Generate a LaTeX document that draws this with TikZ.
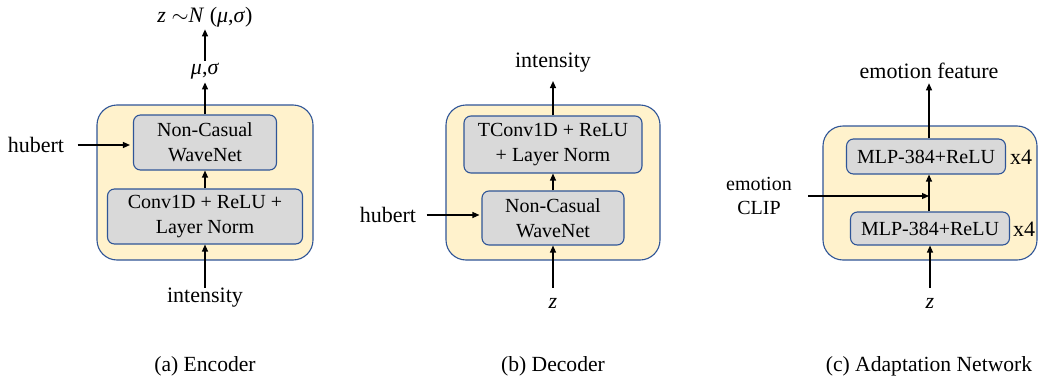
\documentclass[tikz,border=0pt]{standalone}
\usepackage{fontspec}
\setmainfont{Liberation Serif}
\usetikzlibrary{arrows.meta}
\definecolor{outerfill}{HTML}{FFF2CC}
\definecolor{boxline}{HTML}{2F5597}
\definecolor{innerfill}{HTML}{D9D9D9}
\begin{document}
\begin{tikzpicture}[x=0.5pt,y=-0.5pt,
  outer/.style={draw=boxline,line width=0.55pt,fill=outerfill,rounded corners=10pt,inner sep=0pt},
  inner/.style={draw=boxline,line width=0.55pt,fill=innerfill,rounded corners=3.5pt,inner sep=0pt,align=center,font=\fontsize{10}{12.5}\selectfont},
  lbl/.style={inner sep=0pt,font=\fontsize{11}{13}\selectfont,align=center},
  captxt/.style={inner sep=0pt,font=\fontsize{10.8}{13}\selectfont},
  arr/.style={-{Triangle[length=3.5pt,width=3pt]},line width=0.6pt,black}]
\useasboundingbox (0,0) rectangle (1038,375);
% ---------- (a) Encoder
\node[outer,minimum width=108pt,minimum height=77.5pt] (aout) at (205,182.5) {};
\node[inner,minimum width=71.5pt,minimum height=27.5pt] (atop) at (205,142.5) {Non-Casual\\WaveNet};
\node[inner,minimum width=97.5pt,minimum height=27.5pt] (abot) at (205,216.5) {Conv1D + ReLU +\\Layer Norm};
\node[lbl] (amu) at (205,71) {\textit{μ},\textit{σ}};
\node[lbl] (azn) at (205,17) {\textit{z} $\sim$\textit{N} (\textit{μ},\textit{σ})};
\node[lbl] (ahub) at (36,145) {hubert};
\node[lbl] (aint) at (205,298) {intensity};
\node[captxt] (acap) at (205,366) {(a) Encoder};
\draw[arr] (aint.north) -- (abot.south);
\draw[arr] (abot.north) -- (atop.south);
\draw[arr,shorten >=1.5pt] (atop.north) -- (amu.south);
\draw[arr,shorten <=1pt,shorten >=1pt] (amu.north) -- (azn.south);
\draw[arr,shorten <=6.5pt,shorten >=1.5pt] (ahub.east) -- (ahub.east -| atop.west);
% ---------- (b) Decoder
\node[outer,minimum width=107pt,minimum height=77.5pt] (bout) at (553,182.5) {};
\node[inner,minimum width=89pt,minimum height=28.5pt] (btop) at (553,144.5) {TConv1D + ReLU\\+ Layer Norm};
\node[inner,minimum width=71pt,minimum height=27pt] (bbot) at (553,218) {Non-Casual\\WaveNet};
\node[lbl] (bint) at (553,63) {intensity};
\node[lbl] (bhub) at (388,215) {hubert};
\node[lbl] (bz) at (553,303) {\textit{z}};
\node[captxt] (bcap) at (553,366) {(b) Decoder};
\draw[arr,shorten <=5pt] (bz.north) -- (bbot.south);
\draw[arr] (bbot.north) -- (btop.south);
\draw[arr,shorten >=4pt] (btop.north) -- (bint.south);
\draw[arr,shorten <=5pt,shorten >=1pt] (bhub.east) -- (bhub.east -| bbot.west);
% ---------- (c) Adaptation Network
\node[outer,minimum width=107pt,minimum height=67pt] (cout) at (930,193) {};
\node[inner,minimum width=79.5pt,minimum height=17.5pt] (ctop) at (926,156.5) {MLP-384+ReLU};
\node[inner,minimum width=79.5pt,minimum height=16.5pt] (cbot) at (930,228.5) {MLP-384+ReLU};
\node[lbl] (cx1) at (1021,157) {x4};
\node[lbl] (cx2) at (1024,229) {x4};
\node[lbl] (cfeat) at (929,71) {emotion feature};
\node[lbl,font=\fontsize{10}{12}\selectfont] (cclip) at (759,196) {emotion\\CLIP};
\node[lbl] (cz) at (930,303) {\textit{z}};
\node[captxt] (ccap) at (929,366) {(c) Adaptation Network};
\coordinate (cjoin) at (929,196);
\draw[arr,shorten <=5pt] (cz.north) -- (cbot.south);
\draw[line width=0.6pt] (cbot.north -| cjoin) -- (cjoin);
\draw[arr] (cjoin) -- (cjoin |- ctop.south);
\draw[arr,shorten >=2pt] (cjoin |- ctop.north) -- (cjoin |- cfeat.south);
\draw[arr,shorten <=8pt] (cclip.east |- cjoin) -- (cjoin);
\end{tikzpicture}
\end{document}
